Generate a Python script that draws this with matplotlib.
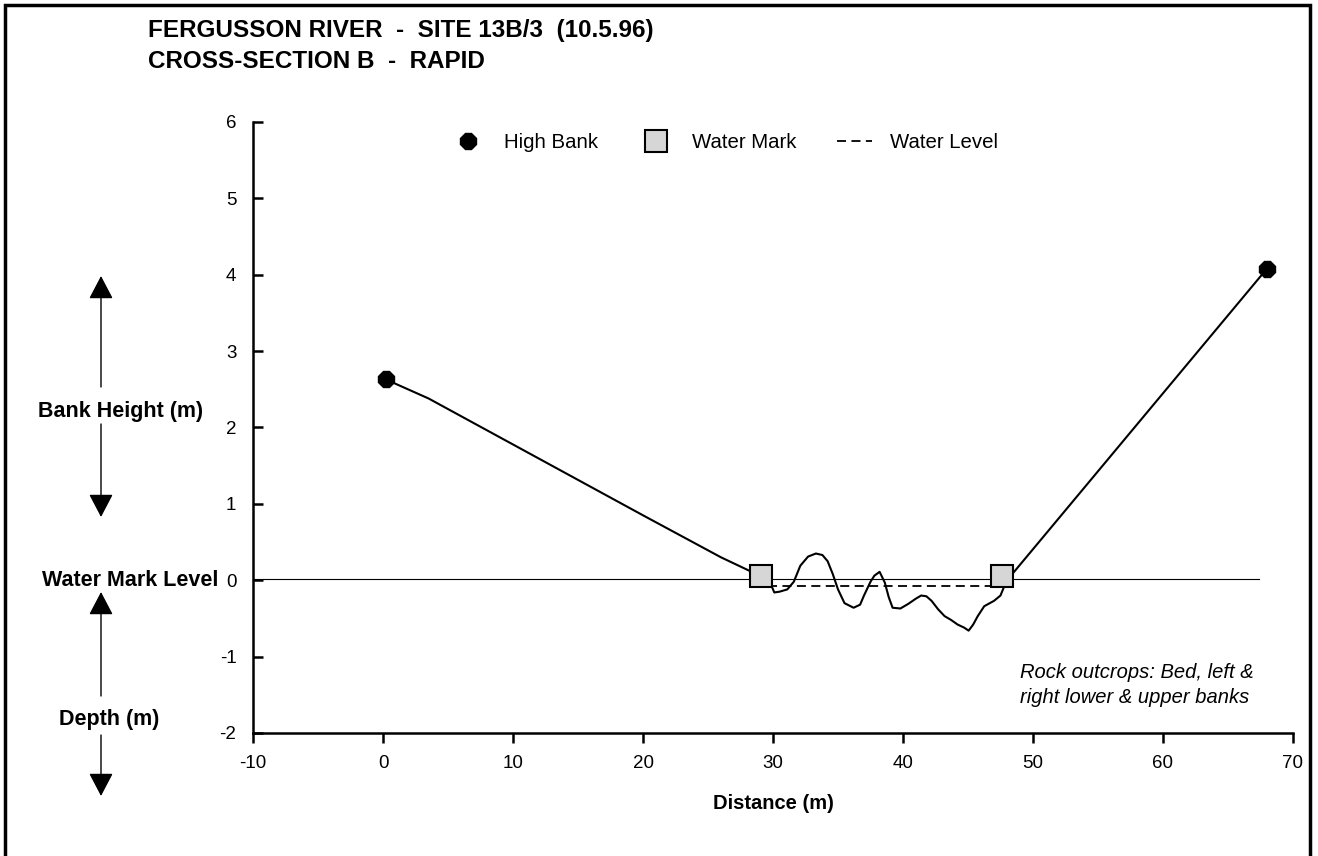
import numpy as np
import matplotlib
matplotlib.use("Agg")
from matplotlib import pyplot as plt
from matplotlib.patches import Rectangle, FancyArrowPatch

plt.rcParams['font.family'] = ['Liberation Sans', 'DejaVu Sans']
plt.rcParams['axes.unicode_minus'] = False

# high bank points
bank_x = [0.2, 68.0]
bank_y = [2.63, 4.08]

# water marks
mark_x = [29.1, 47.6]
mark_y = [0.05, 0.05]

# water level
level_x = [29.6, 47.4]
level_y = [-0.075, -0.075]

# water mark reference line
ref_x = [-10, 67.4]
ref_y = [0.02, 0.02]

# cross-section profile
prof_x = [0.2, 3.5, 20.0, 26.0, 29.1, 29.8, 30.1, 30.5, 31.1, 31.6, 32.1, 32.7, 33.3, 33.8,
          34.2, 34.6, 35.0, 35.5, 36.2, 36.7, 37.0, 37.5, 37.8, 38.2, 38.6, 38.9, 39.2, 39.8,
          40.4, 41.0, 41.4, 41.8, 42.2, 42.7, 43.2, 43.7, 44.2, 44.7, 45.05, 45.4, 45.75, 46.25,
          47.0, 47.5, 47.8, 48.4, 50.9, 68.0]
prof_y = [2.63, 2.38, 0.85, 0.3, 0.05, -0.04, -0.16, -0.15, -0.12, -0.02, 0.19, 0.31, 0.35, 0.33,
          0.25, 0.08, -0.12, -0.30, -0.36, -0.32, -0.20, -0.02, 0.06, 0.11, -0.03, -0.22, -0.36, -0.37,
          -0.31, -0.24, -0.20, -0.21, -0.27, -0.38, -0.47, -0.52, -0.58, -0.62, -0.66, -0.58, -0.47, -0.34,
          -0.27, -0.20, -0.075, 0.08, 0.59, 4.08]

fig = plt.figure(figsize=(13.18, 8.56), dpi=100)
ax = fig.add_axes([0.192, 0.1437, 0.789, 0.7138])

ax.plot(ref_x, ref_y, color='black', lw=0.8, zorder=1)
ax.plot(prof_x, prof_y, color='black', lw=1.5, zorder=2)
ax.plot(level_x, level_y, color='black', lw=1.3, ls=(0, (5, 3)), zorder=2, label='Water Level')
ax.plot(bank_x, bank_y, ls='none', marker='8', ms=12, color='black', zorder=3, label='High Bank')
ax.plot(mark_x, mark_y, ls='none', marker='s', ms=16, mfc='#d6d6d6', mec='black', mew=1.5,
        zorder=3, label='Water Mark')

ax.set_xlim(-10, 70)
ax.set_ylim(-2, 6)
ax.set_xticks(np.arange(-10, 71, 10))
ax.set_yticks(np.arange(-2, 7, 1))
for s in ['top', 'right']:
    ax.spines[s].set_visible(False)
for s in ['left', 'bottom']:
    ax.spines[s].set_linewidth(1.8)
ax.tick_params(axis='y', direction='in', length=7, width=1.8, labelsize=13.5, pad=12)
ax.tick_params(axis='x', direction='out', length=7, width=1.8, labelsize=13.5, pad=9)
ax.set_xlabel('Distance (m)', fontsize=14.5, fontweight='bold', labelpad=16)

h, l = ax.get_legend_handles_labels()
order = [1, 2, 0]
ax.legend([h[i] for i in order], [l[i] for i in order], loc='center left', ncol=3, frameon=False,
          fontsize=14.7, bbox_to_anchor=(0.19, 0.966), borderpad=0, borderaxespad=0,
          columnspacing=2.0, handlelength=1.7, handletextpad=0.9)

ax.text(1020 / 1318, 1 - 685 / 856, 'Rock outcrops: Bed, left &\nright lower & upper banks',
        transform=fig.transFigure, ha='left', va='center', fontsize=14.5, style='italic',
        linespacing=1.45)

# title
fig.text(148 / 1318, 1 - 30 / 856, 'FERGUSSON RIVER  -  SITE 13B/3  (10.5.96)', fontsize=17.5,
         fontweight='bold', va='center')
fig.text(148 / 1318, 1 - 61 / 856, 'CROSS-SECTION B  -  RAPID', fontsize=17.5,
         fontweight='bold', va='center')

# left side labels with arrows
def fx(px):
    return px / 1318

def fy(py):
    return 1 - py / 856

fig.text(fx(121), fy(412), 'Bank Height (m)', ha='center', va='center', fontsize=15.5, fontweight='bold')
fig.text(fx(130), fy(580), 'Water Mark Level', ha='center', va='center', fontsize=15.5, fontweight='bold')
fig.text(fx(109), fy(719), 'Depth (m)', ha='center', va='center', fontsize=15.5, fontweight='bold')

for y0, y1 in [(387, 276), (424, 517), (696, 592), (735, 796)]:
    fig.add_artist(FancyArrowPatch((fx(101), fy(y0)), (fx(101), fy(y1)), transform=fig.transFigure,
                                   arrowstyle='-|>,head_width=0.54,head_length=1.03',
                                   mutation_scale=14, color='black', lw=1.0, shrinkA=0, shrinkB=0))

# frame around the chart
fig.add_artist(Rectangle((fx(5), -0.05), fx(1310) - fx(5), fy(5) + 0.05, transform=fig.transFigure,
                         fill=False, edgecolor='black', lw=2.5))

fig.savefig('out.png', dpi=100)
